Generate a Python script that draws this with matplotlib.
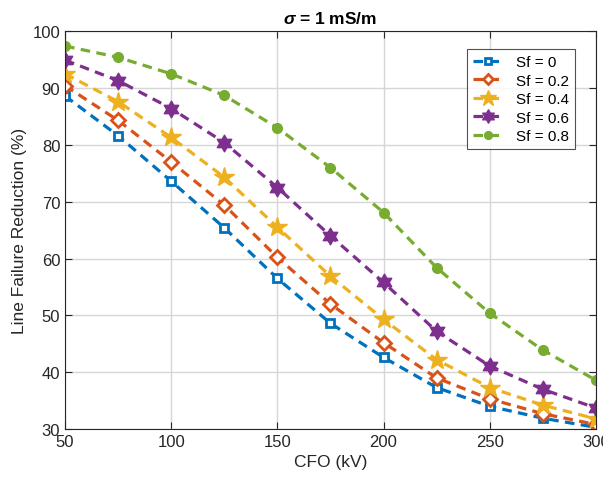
import matplotlib
matplotlib.use("Agg")
import matplotlib.pyplot as plt
import numpy as np
from matplotlib.path import Path

plt.rcParams["font.family"] = ["Liberation Sans", "DejaVu Sans"]
plt.rcParams["mathtext.fontset"] = "custom"
plt.rcParams["mathtext.it"] = "Liberation Sans:italic"
plt.rcParams["mathtext.bfit"] = "Liberation Sans:italic:bold"

cfo = [50, 75, 100, 125, 150, 175, 200, 225, 250, 275, 300]
sf0 = [88.6, 81.6, 73.6, 65.4, 56.5, 48.6, 42.6, 37.3, 34.0, 31.9, 30.3]
sf02 = [90.4, 84.3, 77.0, 69.4, 60.2, 52.0, 45.2, 39.0, 35.3, 32.7, 30.8]
sf04 = [92.5, 87.6, 81.3, 74.3, 65.5, 56.9, 49.3, 42.2, 37.3, 34.2, 31.8]
sf06 = [94.9, 91.3, 86.4, 80.4, 72.5, 64.0, 55.8, 47.2, 41.1, 37.0, 33.7]
sf08 = [97.4, 95.4, 92.5, 88.7, 83.0, 76.0, 68.1, 58.4, 50.4, 43.9, 38.6]
labels = ["Sf = 0", "Sf = 0.2", "Sf = 0.4", "Sf = 0.6", "Sf = 0.8"]

# hexagram marker (star of David outline)
ang = np.pi / 2 + np.arange(12) * np.pi / 6
rad = np.where(np.arange(12) % 2 == 0, 1.0, 1.0 / np.sqrt(3))
verts = np.column_stack([rad * np.cos(ang), rad * np.sin(ang)])
verts = np.vstack([verts, verts[:1]])
hexagram = Path(verts, [Path.MOVETO] + [Path.LINETO] * 11 + [Path.CLOSEPOLY])

series = [sf0, sf02, sf04, sf06, sf08]
colors = ["#0072BD", "#D95319", "#EDB120", "#7E2F8E", "#77AC30"]
markers = ["s", "D", "*", hexagram, "o"]
msizes = [6, 7, 15, 12, 7]
mfc = ["white", "white", None, None, None]

fig = plt.figure(figsize=(6.03, 4.81), dpi=100)
ax = fig.add_axes([0.108, 0.106, 0.880, 0.827])
for y, c, m, ms, fc, lab in zip(series, colors, markers, msizes, mfc, labels):
    kw = dict(color=c, linestyle=(0, (3.0, 2.0)), linewidth=2.3, marker=m, markersize=ms,
              markeredgecolor=c, markeredgewidth=2 if fc else 1, label=lab)
    kw["markerfacecolor"] = fc if fc else c
    ax.plot(cfo, y, **kw)

ax.set_xlim(50, 300)
ax.set_ylim(30, 100)
ax.set_xticks([50, 100, 150, 200, 250, 300])
ax.set_yticks([30, 40, 50, 60, 70, 80, 90, 100])
ax.grid(True, color="#d6d6d6", linewidth=1)
ax.set_axisbelow(True)
ax.tick_params(direction="in", top=True, right=True, labelsize=12, colors="#262626", length=5)
for s in ax.spines.values():
    s.set_color("#262626")
ax.set_xlabel("CFO (kV)", fontsize=12.5, color="#262626")
ax.set_ylabel("Line Failure Reduction (%)", fontsize=12.5, color="#262626")
ax.set_title(r"$\boldsymbol{\sigma}$ = 1 mS/m", fontsize=12.5, fontweight="bold")
leg = ax.legend(loc="upper right", bbox_to_anchor=(0.975, 0.975), fontsize=11, fancybox=False,
                edgecolor="#262626", handlelength=2.0, borderpad=0.4, labelspacing=0.3,
                handletextpad=0.8, markerscale=0.8)
leg.get_frame().set_linewidth(0.8)
fig.savefig("out.png", dpi=100)
